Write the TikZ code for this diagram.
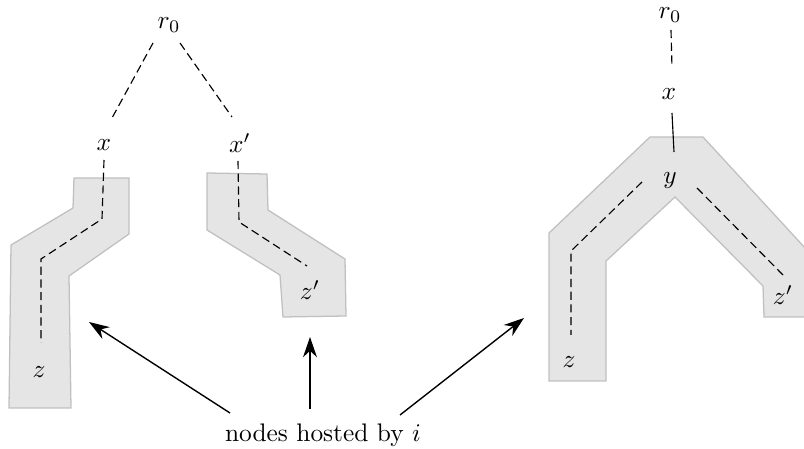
\documentclass[tikz,border=0pt]{standalone}
\usetikzlibrary{arrows.meta,calc}
\definecolor{hostfill}{RGB}{229,229,229}
\definecolor{hostedge}{RGB}{192,192,192}
\begin{document}
\begin{tikzpicture}[x=0.01384cm,y=-0.01384cm,
  host/.style={fill=hostfill,draw=hostedge,line width=0.5pt},
  tree/.style={dash pattern=on 3.2pt off 1.8pt,line width=0.45pt},
  solidedge/.style={line width=0.45pt},
  lab/.style={inner sep=0pt},
  pointer/.style={-{Stealth[length=8pt,width=5.5pt]},line width=0.55pt}]
\useasboundingbox (0,0) rectangle (804,449);

% regions of nodes hosted by i
\draw[host] (74,178) -- (129,178) -- (129,234) -- (69,276) -- (71,408)
  -- (9,408) -- (11,245) -- (73,208) -- cycle;
\draw[host] (207,173) -- (267,174) -- (268,210) -- (345,259) -- (346,316)
  -- (283,317) -- (280,275) -- (207,230) -- cycle;
\draw[host] (650,137) -- (703,137) -- (806,249) -- (806,317) -- (764,317)
  -- (763,286) -- (675,197) -- (606,261) -- (606,381) -- (549,381)
  -- (549,233) -- cycle;

% left tree
\node[lab] (r0L) at (169,25) {$r_0$};
\node[lab] (xL)  at (104,145) {$x$};
\node[lab] (xpL) at (240,143) {$x'$};
\node[lab] (zL)  at (39,372) {$z$};
\node[lab] (zpL) at (310,290) {$z'$};
\coordinate (bL1) at (102,219);
\coordinate (bL2) at (41,259);
\coordinate (bM1) at (239,222);

\draw[tree] ($(r0L)+(-16,18)$) -- ($(xL)+(8,-27)$);
\draw[tree] ($(r0L)+(11,18)$) -- ($(xpL)+(-8,-26)$);
\draw[tree] ($(xL)+(0,15)$) -- (bL1) -- (bL2) -- ($(zL)+(2,-29)$);
\draw[tree] ($(xpL)+(-2,18)$) -- (bM1) -- ($(zpL)+(-3,-24)$);

% right tree
\node[lab] (r0R) at (670,15) {$r_0$};
\node[lab] (xR)  at (669,94) {$x$};
\node[lab] (yR)  at (670,181) {$y$};
\node[lab] (zR)  at (569,362) {$z$};
\node[lab] (zpR) at (783,295) {$z'$};
\coordinate (bR1) at (571,251);

\draw[tree] ($(r0R)+(1,15)$) -- ($(xR)+(3,-26)$);
\draw[solidedge] ($(xR)+(3,19)$) -- ($(yR)+(4,-29)$);
\draw[tree] ($(yR)+(-28,1)$) -- (bR1) -- ($(zR)+(2,-27)$);
\draw[tree] ($(yR)+(27,7)$) -- ($(zpR)+(0,-20)$);

% caption and pointers
\node (lbl) at (323,435) {nodes hosted by $i$};
\coordinate (tipL) at (89,322);
\coordinate (tipM) at (310,337);
\coordinate (tipR) at (524,318);
\draw[pointer] ($(lbl)+(-93,-22)$) -- (tipL);
\draw[pointer] ($(lbl)+(-13,-26)$) -- (tipM);
\draw[pointer] ($(lbl)+(77,-20)$) -- (tipR);
\end{tikzpicture}
\end{document}
